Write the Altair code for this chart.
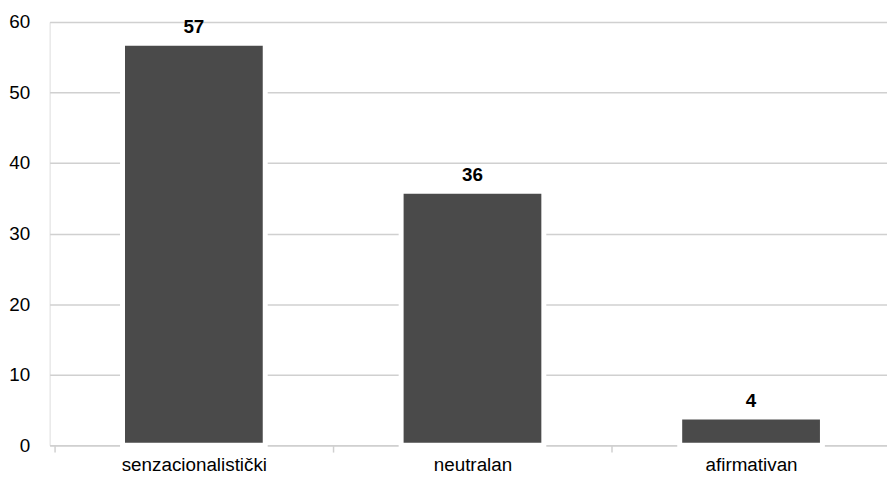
import altair as alt
import pandas as pd

categories = ["senzacionalistički", "neutralan", "afirmativan"]
values = [57, 36, 4]

df = pd.DataFrame({
    "kategorija": categories,
    "broj": values,
    "pozicija": [i + 0.5 for i in range(len(categories))],
})

FONT = "Liberation Sans"
FS = 19
PLOT_W = 845
STEP = 284.5  # pixel width of one category slot

label_expr = " : ".join(
    f"datum.value == {i + 0.5} ? '{c}'" for i, c in enumerate(categories)
) + " : ''"

xscale = alt.Scale(domain=[0, PLOT_W / STEP], nice=False, zero=False)
yscale = alt.Scale(domain=[0, 60], nice=False)

x = alt.X(
    "pozicija:Q",
    title=None,
    scale=xscale,
    axis=alt.Axis(
        values=[0, 0.5, 1, 1.5, 2, 2.5],
        labelExpr=label_expr,
        labelAngle=0,
        labelFontSize=FS,
        labelColor="#000000",
        labelFont=FONT,
        labelPadding=4,
        labelFlush=False,
        labelOverlap=False,
        tickColor="#d0d0d0",
        tickSize=7,
        tickWidth=1.5,
        tickOpacity=alt.ExprRef("datum.value % 1 == 0 ? 1 : 0"),
        domainColor="#d0d0d0",
        domainWidth=1.5,
        grid=False,
    ),
)
y = alt.Y(
    "broj:Q",
    title=None,
    scale=yscale,
    axis=alt.Axis(
        values=[0, 10, 20, 30, 40, 50, 60],
        labelFontSize=FS,
        labelColor="#000000",
        labelFont=FONT,
        labelPadding=20,
        domain=False,
        ticks=False,
        grid=True,
        gridColor="#d0d0d0",
        gridWidth=1.5,
    ),
)

bars = alt.Chart(df).mark_bar(
    size=144, color="#4a4a4a", stroke="#ffffff", strokeWidth=5
).encode(x=x, y=y)

labels = alt.Chart(df).mark_text(
    dy=-16, fontSize=FS, fontWeight="bold", font=FONT, color="#000000"
).encode(x=alt.X("pozicija:Q", scale=xscale),
         y=alt.Y("broj:Q", scale=yscale),
         text="broj:Q")

chart = (
    alt.layer(bars, labels)
    .properties(
        width=PLOT_W,
        height=427,
        autosize=alt.AutoSizeParams(type="none"),
        padding={"left": 42, "top": 12, "right": 0, "bottom": 28},
    )
    .configure_view(stroke=None)
    .configure(background="#ffffff")
)

chart.save("out.html", embed_options={"renderer": "svg", "actions": False})
